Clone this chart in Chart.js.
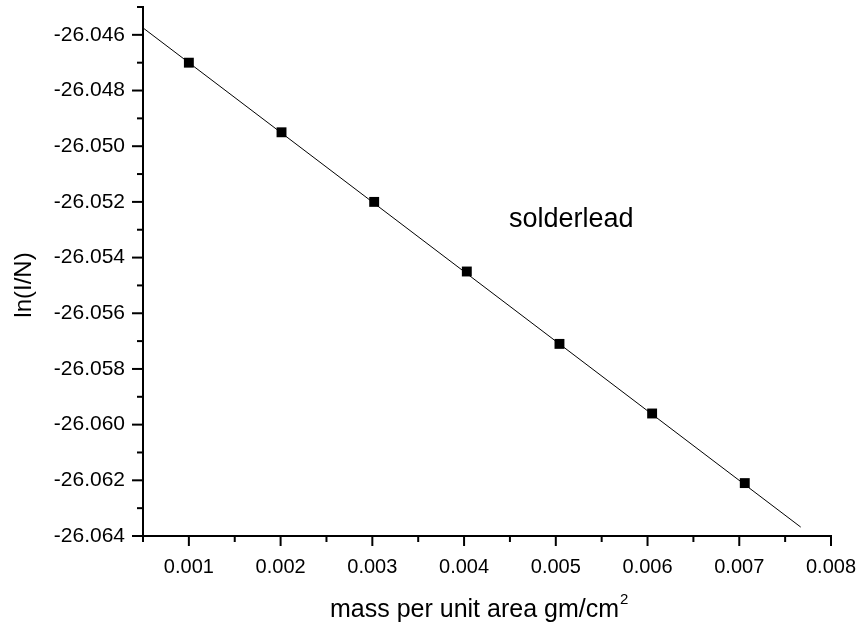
<!DOCTYPE html>
<html>
<head>
<meta charset="utf-8">
<script src="https://cdn.jsdelivr.net/npm/chart.js@4"></script>
<style>
  html, body { margin: 0; padding: 0; background: #fff; }
  #wrap { width: 862px; height: 629px; position: relative; }
</style>
</head>
<body>
<div id="wrap"><canvas id="c"></canvas></div>
<script>
// ln(I/N) vs areal mass for solder lead, with straight-line fit

const massX = [0.001, 0.00201, 0.00302, 0.00403, 0.00504, 0.00605, 0.00706];
const lnIN = [-26.0470, -26.0495, -26.0520, -26.0545, -26.0571, -26.0596, -26.0621];

// fitted line, drawn end to end
const fitX = [0.0005, 0.00767];
const fitY = [-26.04575, -26.06368];

const xMin = 0.0005, xMax = 0.008, xStep = 0.0005;
const yMin = -26.064, yMax = -26.045, yStep = 0.001;

const FONT = "'Liberation Sans', Arial, sans-serif";

const isMajorX = (v) => Math.abs(v * 1000 - Math.round(v * 1000)) < 1e-6;
const isMajorY = (v) => Math.round(Math.abs(v) * 1000) % 2 === 0;

// short minor ticks, longer major ones, drawn on the library's scales
const tickMarks = {
  id: "tickMarks",
  afterDraw(chart) {
    const ctx = chart.ctx;
    const xs = chart.scales.x, ys = chart.scales.y;
    ctx.save();
    ctx.strokeStyle = "#000";
    ctx.lineWidth = 2;
    for (const t of xs.ticks) {
      const px = xs.getPixelForValue(t.value);
      const len = isMajorX(t.value) ? 10 : 6;
      ctx.beginPath();
      ctx.moveTo(px, xs.top);
      ctx.lineTo(px, xs.top + len);
      ctx.stroke();
    }
    for (const t of ys.ticks) {
      const py = ys.getPixelForValue(t.value);
      const len = isMajorY(t.value) ? 11 : 6;
      ctx.beginPath();
      ctx.moveTo(ys.right, py);
      ctx.lineTo(ys.right - len, py);
      ctx.stroke();
    }
    ctx.restore();
  }
};

// axis titles (with superscript) and the in-plot label
const labels = {
  id: "labels",
  afterDraw(chart) {
    const ctx = chart.ctx;
    ctx.save();
    ctx.fillStyle = "#000";
    ctx.textBaseline = "alphabetic";
    ctx.textAlign = "left";

    ctx.font = "27px " + FONT;
    ctx.fillText("solderlead", 509, 227);

    // x title
    ctx.font = "25px " + FONT;
    const main = "mass per unit area gm/cm";
    const w = ctx.measureText(main).width;
    ctx.fillText(main, 330, 617);
    ctx.font = "15px " + FONT;
    ctx.fillText("2", 330 + w + 1, 604);

    // y title
    ctx.font = "24px " + FONT;
    ctx.translate(31, 285);
    ctx.rotate(-Math.PI / 2);
    ctx.textAlign = "center";
    ctx.fillText("ln(I/N)", 0, 0);
    ctx.restore();
  }
};

new Chart(document.getElementById("c"), {
  type: "scatter",
  data: {
    datasets: [
      {
        label: "fit",
        data: fitX.map((x, i) => ({ x, y: fitY[i] })),
        showLine: true,
        borderColor: "#000",
        borderWidth: 1,
        pointRadius: 0,
        fill: false
      },
      {
        label: "solderlead",
        data: massX.map((x, i) => ({ x, y: lnIN[i] })),
        pointStyle: "rect",
        pointRadius: 7,
        backgroundColor: "#000",
        borderColor: "#000",
        borderWidth: 0
      }
    ]
  },
  options: {
    responsive: true,
    maintainAspectRatio: false,
    animation: false,
    layout: { padding: { top: 6, right: 31, left: 0, bottom: 0 } },
    plugins: { legend: { display: false }, tooltip: { enabled: false } },
    scales: {
      x: {
        type: "linear",
        min: xMin, max: xMax,
        grid: { display: false, drawTicks: true, tickLength: 10 },
        border: { display: true, color: "#000", width: 2 },
        ticks: {
          stepSize: xStep,
          color: "#000",
          font: { family: FONT, size: 20 },
          padding: 9,
          maxRotation: 0,
          autoSkip: false,
          callback: (v) => isMajorX(v) ? v.toFixed(3) : ""
        },
        afterFit: (s) => { s.height = 93; s.paddingLeft = 0; s.paddingRight = 0; }
      },
      y: {
        type: "linear",
        min: yMin, max: yMax,
        grid: { display: false, drawTicks: true, tickLength: 11 },
        border: { display: true, color: "#000", width: 2 },
        ticks: {
          stepSize: yStep,
          color: "#000",
          font: { family: FONT, size: 21 },
          padding: 7,
          autoSkip: false,
          callback: (v) => isMajorY(v) ? v.toFixed(3) : ""
        },
        afterFit: (s) => { s.width = 143; s.paddingTop = 0; s.paddingBottom = 0; }
      }
    }
  },
  plugins: [tickMarks, labels]
});
</script>
</body>
</html>
